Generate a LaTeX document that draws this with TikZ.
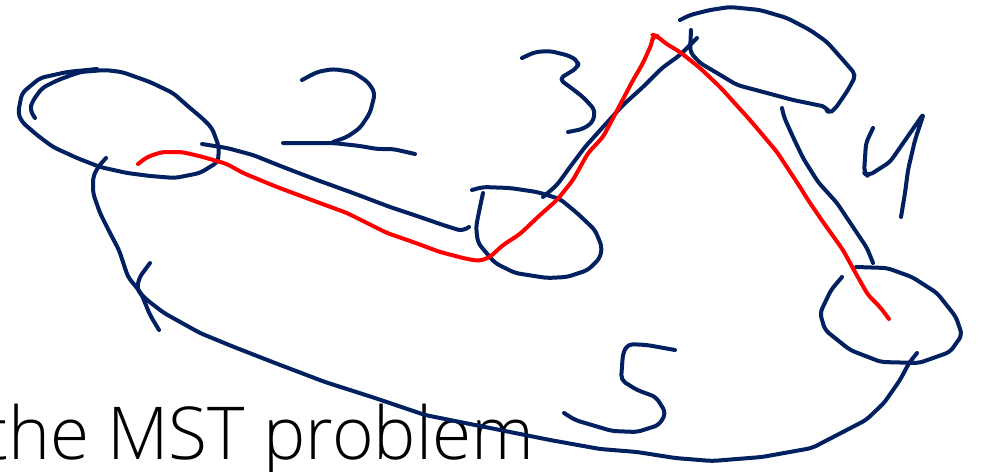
\documentclass[tikz,border=0pt]{standalone}
\usepackage{fontspec}
\usepackage{xcolor}
\definecolor{inkblue}{HTML}{002060}
\definecolor{inkred}{HTML}{FF0000}
\newfontfamily\titlefont{Open Sans Light}
\usetikzlibrary{positioning}

\begin{document}
\begin{tikzpicture}[
			x=1pt, y=-1pt,
			stroke/.style={
				line width=4pt,
				line cap=round,
				line join=round,
				rounded corners=5pt,
			},
			ink/.style={stroke, draw=inkblue},
			path/.style={stroke, draw=inkred},
			title/.style={font=\titlefont\fontsize{73}{80}\selectfont, text=black, inner sep=0pt, anchor=base west, xscale=0.975, transform shape},
			]
			\useasboundingbox (0,0) rectangle (981,471);
			\node[title] (caption) at (-16,459) {the MST problem};
			
			% vertices
			\draw[ink] (35,118) -- (30,110) -- (32,102) -- (42,88) -- (58,80) -- (80,72) -- (105,70) -- (122,72) -- (150,82) -- (173,93) -- (190,108) -- (202,118) -- (212,128) -- (219,147) -- (218,162) -- (200,173) -- (175,178) -- (150,176) -- (127,173) -- (100,167) -- (77,158) -- (53,147) -- (37,135) -- (22,122) -- (18,113) -- (22,93) -- (40,78) -- (67,72) -- (97,69);
			\draw[ink] (472,190) -- (483,187) -- (510,188) -- (537,192) -- (560,199) -- (577,213) -- (595,230) -- (602,247) -- (600,258) -- (588,270) -- (567,277) -- (547,278) -- (515,273) -- (495,263) -- (478,243) -- (476,227) -- (480,207) -- (483,193);
			\draw[ink] (691,30) -- (690,52) -- (700,63) -- (717,73) -- (737,85) -- (767,93) -- (793,100) -- (827,107) -- (828,114) -- (835,109) -- (848,90) -- (856,75) -- (843,60) -- (827,42) -- (810,30) -- (787,18) -- (760,10) -- (730,7) -- (710,10) -- (690,15) -- (680,20);
			\draw[ink] (856,267) -- (887,268) -- (912,277) -- (937,293) -- (956,317) -- (962,335) -- (950,352) -- (919,363) -- (881,362) -- (850,350) -- (825,330) -- (820,313) -- (831,290) -- (842,277);
			
			% edges
			\draw[ink] (202,144) -- (227,148) -- (253,155) -- (283,167) -- (317,180) -- (353,193) -- (390,207) -- (417,216) -- (443,225) -- (462,231) -- (469,227);
			\draw[ink] (543,197) -- (557,185) -- (570,167) -- (585,147) -- (603,127) -- (623,105) -- (643,87) -- (662,68) -- (680,55) -- (692,43) -- (697,38);
			\draw[ink] (782,108) -- (784,117) -- (793,137) -- (803,158) -- (818,182) -- (837,203) -- (853,227) -- (867,248) -- (873,263);
			\draw[ink] (106,158) -- (98,167) -- (93,177) -- (93,193) -- (100,213) -- (110,233) -- (119,250) -- (128,277) -- (141,293) -- (150,315) -- (159,330);
			\draw[ink] (150,263) -- (139,278) -- (137,290) -- (147,300) -- (164,313) -- (200,333) -- (234,347) -- (275,363) -- (325,382) -- (375,398) -- (425,415) -- (500,430) -- (550,440) -- (600,449) -- (637,452) -- (675,458) -- (712,461) -- (762,457) -- (812,448) -- (866,420) -- (884,403) -- (900,380) -- (909,363) -- (917,353);
			
			% weights
			\draw[ink] (302,80) -- (317,72) -- (333,69) -- (353,72) -- (368,82) -- (375,93) -- (370,113) -- (360,128) -- (347,137) -- (333,142);
			\draw[ink] (283,143) -- (333,143) -- (360,146) -- (377,149) -- (393,149) -- (415,154);
			\draw[ink] (522,58) -- (535,52) -- (550,51) -- (570,56) -- (579,62) -- (577,68) -- (559,79) -- (570,87) -- (583,97) -- (595,110) -- (593,122) -- (583,129) -- (568,132);
			\draw[ink] (873,128) -- (866,143) -- (864,173) -- (868,176) -- (890,162) -- (924,113) -- (915,140) -- (908,170) -- (905,193) -- (901,217);
			\draw[ink] (675,350) -- (647,345) -- (628,344) -- (623,353) -- (621,380) -- (637,390) -- (656,397) -- (666,413) -- (659,425) -- (637,432) -- (612,431) -- (575,420) -- (564,413);
			
			% highlighted route
			\draw[path] (138,164) -- (147,157) -- (162,152) -- (182,152) -- (203,157) -- (227,164) -- (243,173) -- (277,187) -- (317,202) -- (347,213) -- (387,233) -- (413,242) -- (440,252) -- (467,259) -- (480,261) -- (490,257) -- (503,245) -- (520,234) -- (540,215) -- (557,200) -- (573,180) -- (588,153) -- (603,137) -- (620,105) -- (632,82) -- (643,63) -- (652,43) -- (653,35) -- (657,36) -- (665,43) -- (680,52) -- (700,68) -- (720,87) -- (750,120) -- (777,152) -- (800,187) -- (808,200) -- (823,222) -- (843,250) -- (855,272) -- (868,295) -- (880,307) -- (889,319);
		\end{tikzpicture}
\end{document}
